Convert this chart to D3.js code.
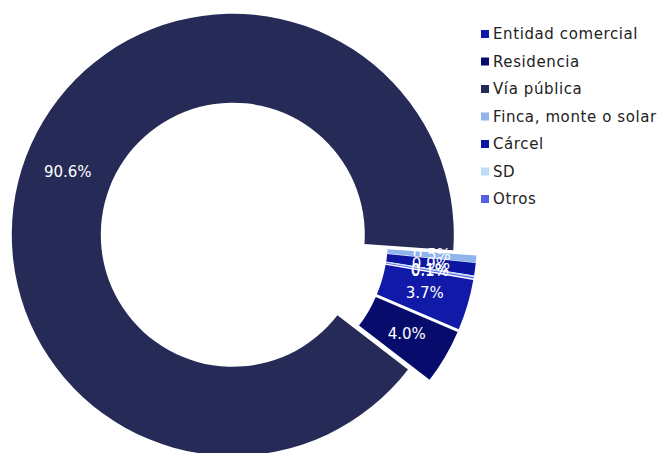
<!DOCTYPE html>
<head>
<meta charset="utf-8">
<script src="https://d3js.org/d3.v7.min.js"></script>
</head>
<body style="margin:0;background:#fff">
<style>
  * { font-family: "DejaVu Sans", sans-serif; }
</style>
<div id="viz"></div>
<script>

// data
var categories = ["Entidad comercial", "Residencia", "Vía pública", "Finca, monte o solar", "Cárcel", "SD", "Otros"];
var values = [3.7, 4.0, 90.6, 0.5, 0.9, 0.1, 0.1];
var labels = ["3.7%", "4.0%", "90.6%", "0.5%", "0.9%", "0.1%", "0.1%"];
var colors = ["#111aa8", "#070c6c", "#262a56", "#8fb4ee", "#0c16a2", "#bcdcf8", "#5560e2"];

var width = 657, height = 453;
var cx = 244, cy = 239,
    outerR = 221, innerR = 132,
    explode = 12;

var svg = d3.select("#viz")
  .append("svg")
    .attr("width", width)
    .attr("height", height);

var pie = d3.pie()
  .sort(null)
  .startAngle(99.8 * Math.PI / 180)
  .endAngle(99.8 * Math.PI / 180 + 2 * Math.PI);

var arc = d3.arc()
  .innerRadius(innerR)
  .outerRadius(outerR);

var arcs = pie(values);

var g = svg.append("g")
  .attr("transform", "translate(" + cx + "," + cy + ")");

// each slice pushed out along its own middle angle
function shift(d) {
  var a = (d.startAngle + d.endAngle) / 2;
  return "translate(" + (explode * Math.sin(a)) + "," + (-explode * Math.cos(a)) + ")";
}

var slice = g.selectAll(".slice")
  .data(arcs)
  .enter().append("g")
    .attr("class", "slice")
    .attr("transform", shift);

slice.append("path")
  .attr("d", arc)
  .attr("fill", function(d, i) { return colors[i]; });

slice.append("text")
  .attr("transform", function(d) { return "translate(" + arc.centroid(d) + ")"; })
  .attr("text-anchor", "middle")
  .attr("dy", "0.35em")
  .style("font-size", "15px")
  .attr("fill", "#ffffff")
  .text(function(d, i) { return labels[i]; });

// legend
var legend = svg.append("g")
  .attr("transform", "translate(481,34)");

var item = legend.selectAll(".item")
  .data(categories)
  .enter().append("g")
    .attr("class", "item")
    .attr("transform", function(d, i) { return "translate(0," + (i * 27.5) + ")"; });

item.append("rect")
  .attr("x", 0)
  .attr("y", -4)
  .attr("width", 8)
  .attr("height", 8)
  .attr("fill", function(d, i) { return colors[i]; });

item.append("text")
  .attr("x", 12)
  .attr("dy", "0.35em")
  .style("font-size", "15px")
  .style("letter-spacing", "0.6px")
  .attr("fill", "#222")
  .text(function(d) { return d; });

</script>
</body>
